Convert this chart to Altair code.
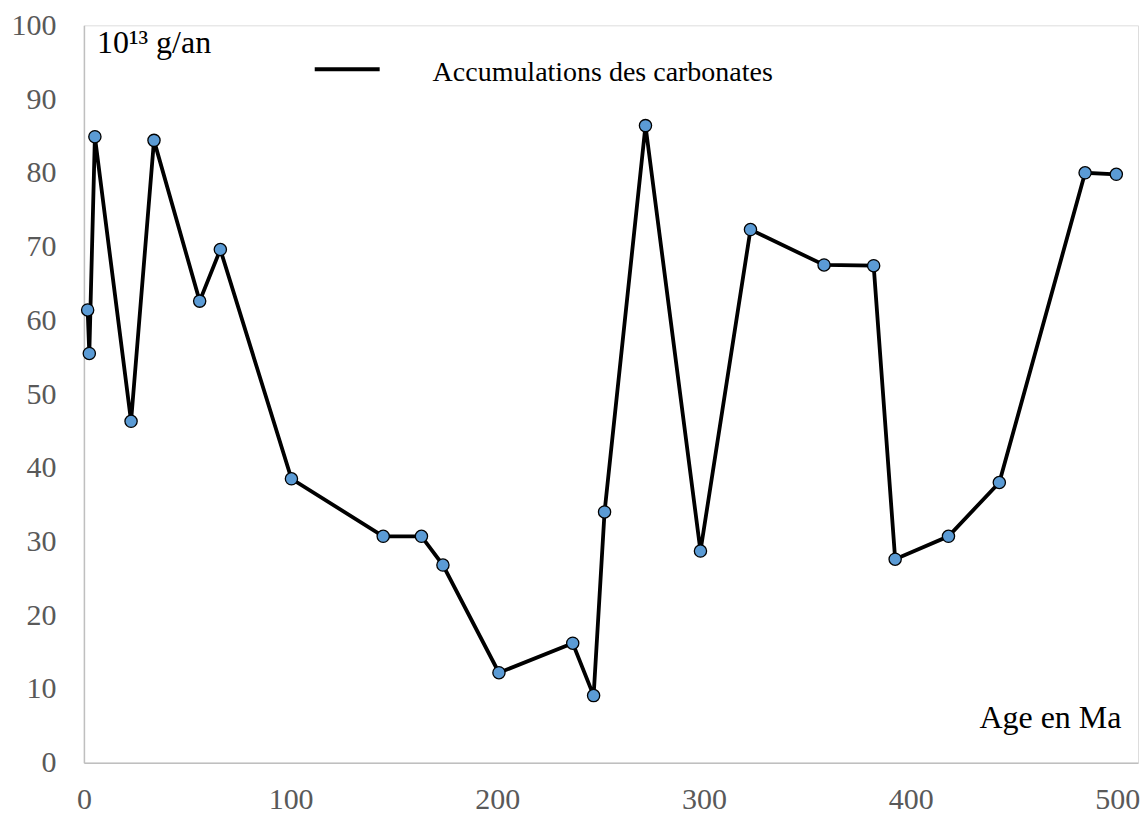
import altair as alt
import pandas as pd

ages = [1.8, 2.6, 5.3, 22.8, 33.9, 56.0, 66.0, 100.4, 144.8, 163.3, 173.7,
        200.8, 236.5, 246.6, 251.9, 271.7, 298.3, 322.5, 358.1, 382.1,
        392.5, 418.3, 442.9, 484.4, 499.5]
accum = [61.4, 55.5, 84.9, 46.3, 84.4, 62.6, 69.6, 38.5, 30.7, 30.7, 26.8,
         12.2, 16.2, 9.1, 34.0, 86.4, 28.7, 72.3, 67.5, 67.4,
         27.6, 30.7, 38.0, 80.0, 79.8]
series_name = "Accumulations des carbonates"
x_ticks = [0, 100, 200, 300, 400, 500]
y_ticks = [0, 10, 20, 30, 40, 50, 60, 70, 80, 90, 100]

df = pd.DataFrame({"age": ages, "val": accum, "order": list(range(len(ages)))})

FONT = "Liberation Serif"
AXFS = 30
TFS = 32

x = alt.X("age:Q", scale=alt.Scale(domain=[0, 510], nice=False, zero=True),
          axis=alt.Axis(values=x_ticks, title=None, grid=False, ticks=False,
                        labelFont=FONT, labelFontSize=AXFS, labelColor="#595959",
                        labelPadding=22, domainColor="#BFBFBF", domainWidth=1.5,
                        labelFlush=False))
y = alt.Y("val:Q", scale=alt.Scale(domain=[0, 100], nice=False),
          axis=alt.Axis(values=y_ticks, title=None, grid=False, ticks=False,
                        labelFont=FONT, labelFontSize=AXFS, labelColor="#595959",
                        labelPadding=28, domainColor="#BFBFBF", domainWidth=1.5,
                        labelFlush=False))

base = alt.Chart(df)
line = base.mark_line(color="black", strokeWidth=3.8).encode(x=x, y=y, order="order:Q")
pts = base.mark_point(filled=True, shape="circle", size=150, fill="#5B9BD5",
                      stroke="black", strokeWidth=1.3, opacity=1).encode(x=x, y=y)

ann = pd.DataFrame({"age": [6.3], "val": [96.2], "t": ["10\u00b9\u00b3 g/an"]})
unit_txt = alt.Chart(ann).mark_text(font=FONT, fontSize=TFS, color="black", align="left",
                                   baseline="alphabetic").encode(
    x=alt.X("age:Q"), y=alt.Y("val:Q"), text="t:N")

ann2 = pd.DataFrame({"age": [502.0], "val": [4.7], "t": ["Age en Ma"]})
age_txt = alt.Chart(ann2).mark_text(font=FONT, fontSize=TFS, color="black", align="right",
                                   baseline="alphabetic").encode(
    x=alt.X("age:Q"), y=alt.Y("val:Q"), text="t:N")

leg = pd.DataFrame({"t": [series_name]})
leg_line = alt.Chart(leg).mark_rule(color="black", strokeWidth=4).encode(
    x=alt.value(231), x2=alt.value(296), y=alt.value(44))
leg_txt = alt.Chart(leg).mark_text(font=FONT, fontSize=28, color="black", align="left",
                                  baseline="alphabetic").encode(
    x=alt.value(349), y=alt.value(56), text="t:N")

chart = alt.layer(line, pts, unit_txt, age_txt, leg_line, leg_txt).properties(
    width=1055, height=738,
    autosize=alt.AutoSizeParams(type="none"),
    padding={"left": 76, "top": 17, "right": 2, "bottom": 51},
).configure_view(stroke=None).configure(background="white")

chart.save("out.html", embed_options={"renderer": "svg", "actions": False})
